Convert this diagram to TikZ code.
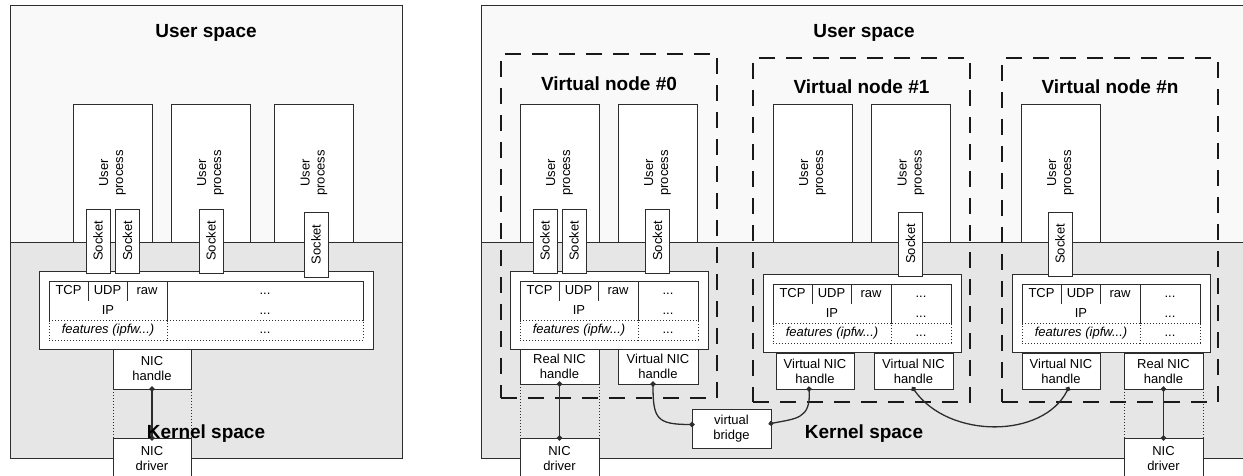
\documentclass[tikz,border=0pt]{standalone}
\usepackage{fontspec}
\setmainfont{Liberation Sans}
\usetikzlibrary{positioning, arrows.meta}

\definecolor{userbg}{RGB}{249,249,249}
\definecolor{kernelbg}{RGB}{230,230,230}
\definecolor{edge}{RGB}{45,45,45}

\tikzstyle{area} = [draw=edge, line width=0.9pt, rectangle, anchor=north west, outer sep=0pt]
\tikzstyle{nbox} = [draw=edge, fill=white, line width=0.8pt, rectangle, inner sep=0pt, outer sep=0pt, align=center, font=\fontsize{13}{15}\selectfont]
\tikzstyle{proc} = [nbox, rotate=90, minimum width=138pt, minimum height=79pt]
\tikzstyle{sock} = [nbox, rotate=90, minimum width=64pt, minimum height=24pt]
\tikzstyle{ncell} = [nbox, anchor=north west, minimum height=20pt, text height=9.5pt, text depth=2.8pt]
\tikzstyle{nblank} = [ncell, draw=none, minimum height=19.5pt]
\tikzstyle{nfeat} = [ncell, dash pattern=on 1pt off 2pt, minimum height=19.5pt]
\tikzstyle{nhandle} = [nbox, anchor=north west, minimum height=36pt]
\tikzstyle{vnode} = [draw=black!90, line width=2.2pt, dash pattern=on 16pt off 11pt, rectangle, anchor=north west, outer sep=0pt, minimum width=216pt, minimum height=344pt]
\tikzstyle{heading} = [anchor=base, font=\fontsize{19}{22}\selectfont\bfseries]
\tikzstyle{gapline} = [draw=edge, line width=0.8pt, dash pattern=on 1pt off 2pt]
\tikzstyle{link} = [draw=edge, line width=1.3pt, {Circle[length=5pt]}-{Circle[length=5pt]}, shorten <=-2.5pt, shorten >=-2.5pt]

% #1 name, #2 #3 top left corner of the table, #4 width of the last column
\newcommand{\netstack}[4]{%
  \node[nbox, anchor=north west, minimum width={(#4+138)*1pt}, minimum height=78pt] (#1) at ({#2-10},{#3-10}) {};
  \node[ncell, minimum width=39pt] (#1-tcp) at (#2,#3) {TCP};
  \node[ncell, minimum width=39pt, right=0pt of #1-tcp] (#1-udp) {UDP};
  \node[ncell, minimum width=40pt, right=0pt of #1-udp] (#1-raw) {raw};
  \node[ncell, minimum width=#4pt, right=0pt of #1-raw] (#1-more) {...};
  \node[nblank, minimum width=118pt] (#1-ip) at (#1-tcp.south west) {IP};
  \node[nblank, minimum width=#4pt, right=0pt of #1-ip] (#1-more2) {...};
  \draw[draw=edge, line width=0.8pt] (#1-ip.north west) -- (#1-ip.south west) (#1-ip.north east) -- (#1-ip.south east) (#1-more2.north east) -- (#1-more2.south east);
  \node[nfeat, minimum width=118pt] (#1-feat) at (#1-ip.south west) {\itshape features (ipfw...)};
  \node[nfeat, minimum width=#4pt, right=0pt of #1-feat] (#1-more3) {...};
}

\begin{document}
\begin{tikzpicture}[x=1pt, y=-1pt]
	\path[use as bounding box, clip] (0,0) rectangle (1243,476);
	
	% plain kernel
	\node[area, fill=userbg, minimum width=392pt, minimum height=453pt] (user-l) at (10,5) {};
	\node[area, fill=kernelbg, minimum width=392pt, minimum height=216pt] (kern-l) at (10,242) {};
	\node[heading] (user-l-t) at (206,38) {User space};
	
	\node[proc] (p1) at (112.5,173) {User\\process};
	\node[proc] (p2) at (210.5,173) {User\\process};
	\node[proc] (p3) at (314,173) {User\\process};
	
	\netstack{st}{49}{281}{196}
	
	\node[sock] (s1) at (98,241) {Socket};
	\node[sock] (s2) at (127.5,241) {Socket};
	\node[sock] (s3) at (211,241) {Socket};
	\node[sock, minimum width=65pt] (s4) at (316,244.5) {Socket};
	
	\node[nhandle, minimum width=78pt, minimum height=40pt] (nic) at (113,349) {NIC\\handle};
	\node[nhandle, minimum width=78pt, minimum height=42pt] (drv) at (113,438) {NIC\\driver};
	\path[gapline] (nic.south west) -- (drv.north west) (nic.south east) -- (drv.north east);
	\path[link] (nic.south) -- (drv.north);
	\node[heading] (kern-l-t) at (206,438) {Kernel space};
	
	% virtualized kernel
	\node[area, fill=userbg, minimum width=770pt, minimum height=453pt] (user-r) at (481,5) {};
	\node[area, fill=kernelbg, minimum width=770pt, minimum height=216pt] (kern-r) at (481,242) {};
	\node[heading] (user-r-t) at (864,38) {User space};
	
	\node[vnode] (vn0) at (501,54) {};
	\node[vnode, minimum width=217pt] (vn1) at (753,58) {};
	\node[vnode] (vnn) at (1002,58) {};
	\node[heading] (vn0-t) at (609,91) {Virtual node \#0};
	\node[heading] (vn1-t) at (861.5,94) {Virtual node \#1};
	\node[heading] (vnn-t) at (1110,94) {Virtual node \#n};
	
	\node[proc] (q1) at (559.5,173) {User\\process};
	\node[proc] (q2) at (657.5,173) {User\\process};
	\node[proc] (q3) at (812.5,173) {User\\process};
	\node[proc] (q4) at (911,173) {User\\process};
	\node[proc] (q5) at (1060.5,173) {User\\process};
	
	\netstack{st0}{520}{281}{60}
	\netstack{st1}{773}{284}{60}
	\netstack{stn}{1022}{284}{60}
	
	\node[sock] (t1) at (545,241) {Socket};
	\node[sock] (t2) at (574,241) {Socket};
	\node[sock] (t3) at (657.5,241) {Socket};
	\node[sock] (t4) at (910.5,244) {Socket};
	\node[sock] (t5) at (1060,244) {Socket};
	
	\node[nhandle, minimum width=79pt, minimum height=35pt] (rnic0) at (520,349) {Real NIC\\handle};
	\node[nhandle, minimum width=80pt, minimum height=35pt] (vnic0) at (618,349) {Virtual NIC\\handle};
	\node[nhandle, minimum width=79pt, minimum height=42pt] (drv0) at (520,438) {NIC\\driver};
	\node[nhandle, minimum width=78pt] (vnic1a) at (776,353) {Virtual NIC\\handle};
	\node[nhandle, minimum width=79pt] (vnic1b) at (874,353) {Virtual NIC\\handle};
	\node[nhandle, minimum width=78pt] (vnicn) at (1022,353) {Virtual NIC\\handle};
	\node[nhandle, minimum width=79pt] (rnicn) at (1124,353) {Real NIC\\handle};
	\node[nhandle, minimum width=79pt, minimum height=42pt] (drvn) at (1124,438) {NIC\\driver};
	\node[nhandle, minimum width=79pt, minimum height=39pt] (bridge) at (692,409) {virtual\\bridge};
	
	\path[gapline] (rnic0.south west) -- (drv0.north west) (rnic0.south east) -- (drv0.north east);
	\path[gapline] (rnicn.south west) -- (drvn.north west) (rnicn.south east) -- (drvn.north east);
	\path[link] (rnic0.south) -- (drv0.north);
	\path[link] (rnicn.south) -- (drvn.north);
	\path[link] ([xshift=-5pt]vnic0.south) .. controls +(0,35) and +(-35,0) .. ([yshift=4pt]bridge.west);
	\path[link] ([yshift=5pt]bridge.east) .. controls +(25,-5) and +(2,30) .. ([xshift=-6pt]vnic1a.south);
	\path[link] (vnic1b.south) .. controls +(35,50) and +(-25,50) .. ([xshift=7pt]vnicn.south);
	\node[heading] (kern-r-t) at (864,438) {Kernel space};
\end{tikzpicture}
\end{document}
